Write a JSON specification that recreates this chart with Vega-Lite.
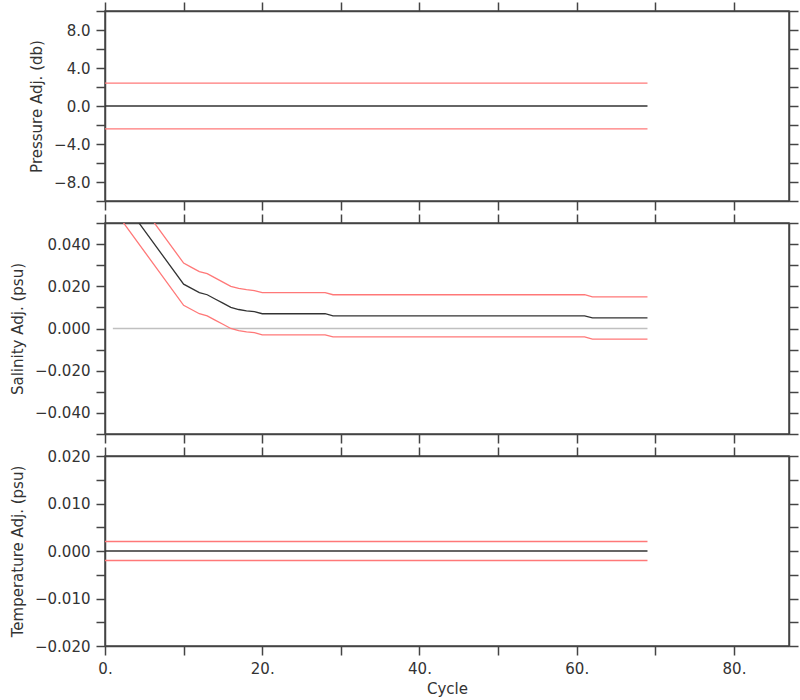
{
  "$schema": "https://vega.github.io/schema/vega-lite/v6.json",
  "autosize": {"type": "pad"},
  "padding": {"left": 9, "top": 0, "right": 0, "bottom": 0},
  "background": "white",
  "spacing": 0,
  "datasets": {
    "pressure": [
      {"cycle": 0, "value": 0, "series": "adj"},
      {"cycle": 69, "value": 0, "series": "adj"},
      {"cycle": 0, "value": 2.4, "series": "upper"},
      {"cycle": 69, "value": 2.4, "series": "upper"},
      {"cycle": 0, "value": -2.4, "series": "lower"},
      {"cycle": 69, "value": -2.4, "series": "lower"}
    ],
    "salinity": [
      {"cycle": 1, "value": 0, "series": "zero"},
      {"cycle": 69, "value": 0, "series": "zero"},
      {"cycle": 1, "value": 0.067, "series": "adj"},
      {"cycle": 10, "value": 0.021, "series": "adj"},
      {"cycle": 11, "value": 0.019, "series": "adj"},
      {"cycle": 12, "value": 0.017, "series": "adj"},
      {"cycle": 13, "value": 0.016, "series": "adj"},
      {"cycle": 14, "value": 0.014, "series": "adj"},
      {"cycle": 15, "value": 0.012, "series": "adj"},
      {"cycle": 16, "value": 0.010, "series": "adj"},
      {"cycle": 17, "value": 0.009, "series": "adj"},
      {"cycle": 18, "value": 0.0084, "series": "adj"},
      {"cycle": 19, "value": 0.008, "series": "adj"},
      {"cycle": 20, "value": 0.007, "series": "adj"},
      {"cycle": 28, "value": 0.007, "series": "adj"},
      {"cycle": 29, "value": 0.006, "series": "adj"},
      {"cycle": 61, "value": 0.006, "series": "adj"},
      {"cycle": 62, "value": 0.005, "series": "adj"},
      {"cycle": 69, "value": 0.005, "series": "adj"},
      {"cycle": 1, "value": 0.077, "series": "upper"},
      {"cycle": 10, "value": 0.031, "series": "upper"},
      {"cycle": 11, "value": 0.029, "series": "upper"},
      {"cycle": 12, "value": 0.027, "series": "upper"},
      {"cycle": 13, "value": 0.026, "series": "upper"},
      {"cycle": 14, "value": 0.024, "series": "upper"},
      {"cycle": 15, "value": 0.022, "series": "upper"},
      {"cycle": 16, "value": 0.020, "series": "upper"},
      {"cycle": 17, "value": 0.019, "series": "upper"},
      {"cycle": 18, "value": 0.0184, "series": "upper"},
      {"cycle": 19, "value": 0.018, "series": "upper"},
      {"cycle": 20, "value": 0.017, "series": "upper"},
      {"cycle": 28, "value": 0.017, "series": "upper"},
      {"cycle": 29, "value": 0.016, "series": "upper"},
      {"cycle": 61, "value": 0.016, "series": "upper"},
      {"cycle": 62, "value": 0.015, "series": "upper"},
      {"cycle": 69, "value": 0.015, "series": "upper"},
      {"cycle": 1, "value": 0.057, "series": "lower"},
      {"cycle": 10, "value": 0.011, "series": "lower"},
      {"cycle": 11, "value": 0.009, "series": "lower"},
      {"cycle": 12, "value": 0.007, "series": "lower"},
      {"cycle": 13, "value": 0.006, "series": "lower"},
      {"cycle": 14, "value": 0.004, "series": "lower"},
      {"cycle": 15, "value": 0.002, "series": "lower"},
      {"cycle": 16, "value": 0.000, "series": "lower"},
      {"cycle": 17, "value": -0.001, "series": "lower"},
      {"cycle": 18, "value": -0.0016, "series": "lower"},
      {"cycle": 19, "value": -0.002, "series": "lower"},
      {"cycle": 20, "value": -0.003, "series": "lower"},
      {"cycle": 28, "value": -0.003, "series": "lower"},
      {"cycle": 29, "value": -0.004, "series": "lower"},
      {"cycle": 61, "value": -0.004, "series": "lower"},
      {"cycle": 62, "value": -0.005, "series": "lower"},
      {"cycle": 69, "value": -0.005, "series": "lower"}
    ],
    "temperature": [
      {"cycle": 0, "value": 0, "series": "adj"},
      {"cycle": 69, "value": 0, "series": "adj"},
      {"cycle": 0, "value": 0.002, "series": "upper"},
      {"cycle": 69, "value": 0.002, "series": "upper"},
      {"cycle": 0, "value": -0.002, "series": "lower"},
      {"cycle": 69, "value": -0.002, "series": "lower"}
    ]
  },
  "vconcat": [
    {
      "width": 684,
      "height": 190,
      "layer": [
        {
          "data": {"name": "pressure"},
          "mark": {"type": "line", "clip": true, "strokeWidth": 1.3},
          "encoding": {
            "x": {"field": "cycle", "type": "quantitative", "scale": {"domain": [0, 87], "nice": false, "zero": false},
                  "axis": {"orient": "bottom", "values": [0, 10, 20, 30, 40, 50, 60, 70, 80], "labels": false, "title": null}},
            "y": {"field": "value", "type": "quantitative", "scale": {"domain": [-10, 10], "nice": false},
                  "axis": {"orient": "left", "values": [-10, -8, -6, -4, -2, 0, 2, 4, 6, 8, 10], "format": ".1f",
                           "labelExpr": "(datum.value % 4 == 0 && abs(datum.value) < 9) ? datum.label : ''", "title": "Pressure Adj. (db)"}},
            "color": {"field": "series", "type": "nominal", "legend": null,
                      "scale": {"domain": ["adj", "upper", "lower", "zero"], "range": ["#333333", "#ff7878", "#ff7878", "#c0c0c0"]}}
          }
        },
        {
          "data": {"name": "pressure"},
          "mark": {"type": "line", "opacity": 0},
          "encoding": {
            "x": {"field": "cycle", "type": "quantitative", "axis": {"orient": "top", "values": [0, 10, 20, 30, 40, 50, 60, 70, 80], "labels": false, "title": null}},
            "y": {"field": "value", "type": "quantitative", "axis": {"orient": "right", "values": [-10, -8, -6, -4, -2, 0, 2, 4, 6, 8, 10], "labels": false, "title": null}}
          }
        }
      ],
      "resolve": {"axis": {"x": "independent", "y": "independent"}}
    },
    {
      "width": 684,
      "height": 211,
      "layer": [
        {
          "data": {"name": "salinity"},
          "mark": {"type": "line", "clip": true, "strokeWidth": 1.3},
          "encoding": {
            "x": {"field": "cycle", "type": "quantitative", "scale": {"domain": [0, 87], "nice": false, "zero": false},
                  "axis": {"orient": "bottom", "values": [0, 10, 20, 30, 40, 50, 60, 70, 80], "labels": false, "title": null}},
            "y": {"field": "value", "type": "quantitative", "scale": {"domain": [-0.05, 0.05], "nice": false},
                  "axis": {"orient": "left", "values": [-0.05, -0.04, -0.03, -0.02, -0.01, 0, 0.01, 0.02, 0.03, 0.04, 0.05], "format": ".3f",
                           "labelExpr": "(round(datum.value * 1000) % 20 == 0 && abs(datum.value) < 0.045) ? datum.label : ''", "title": "Salinity Adj. (psu)"}},
            "color": {"field": "series", "type": "nominal", "legend": null,
                      "scale": {"domain": ["adj", "upper", "lower", "zero"], "range": ["#333333", "#ff7878", "#ff7878", "#c0c0c0"]}}
          }
        },
        {
          "data": {"name": "salinity"},
          "mark": {"type": "line", "opacity": 0, "clip": true},
          "encoding": {
            "x": {"field": "cycle", "type": "quantitative", "axis": {"orient": "top", "values": [0, 10, 20, 30, 40, 50, 60, 70, 80], "labels": false, "title": null}},
            "y": {"field": "value", "type": "quantitative", "axis": {"orient": "right", "values": [-0.05, -0.04, -0.03, -0.02, -0.01, 0, 0.01, 0.02, 0.03, 0.04, 0.05], "labels": false, "title": null}}
          }
        }
      ],
      "resolve": {"axis": {"x": "independent", "y": "independent"}}
    },
    {
      "width": 684,
      "height": 190,
      "layer": [
        {
          "data": {"name": "temperature"},
          "mark": {"type": "line", "clip": true, "strokeWidth": 1.3},
          "encoding": {
            "x": {"field": "cycle", "type": "quantitative", "scale": {"domain": [0, 87], "nice": false, "zero": false},
                  "axis": {"orient": "bottom", "values": [0, 10, 20, 30, 40, 50, 60, 70, 80], "labelFlush": false, "labelOverlap": false,
                           "labelExpr": "datum.value % 20 == 0 ? format(datum.value, 'd') + '.' : ''", "title": "Cycle", "titlePadding": 5}},
            "y": {"field": "value", "type": "quantitative", "scale": {"domain": [-0.02, 0.02], "nice": false},
                  "axis": {"orient": "left", "values": [-0.02, -0.015, -0.01, -0.005, 0, 0.005, 0.01, 0.015, 0.02], "format": ".3f",
                           "labelExpr": "(round(datum.value * 1000) % 10 == 0) ? datum.label : ''", "title": "Temperature Adj. (psu)"}},
            "color": {"field": "series", "type": "nominal", "legend": null,
                      "scale": {"domain": ["adj", "upper", "lower", "zero"], "range": ["#333333", "#ff7878", "#ff7878", "#c0c0c0"]}}
          }
        },
        {
          "data": {"name": "temperature"},
          "mark": {"type": "line", "opacity": 0},
          "encoding": {
            "x": {"field": "cycle", "type": "quantitative", "axis": {"orient": "top", "values": [0, 10, 20, 30, 40, 50, 60, 70, 80], "labels": false, "title": null}},
            "y": {"field": "value", "type": "quantitative", "axis": {"orient": "right", "values": [-0.02, -0.015, -0.01, -0.005, 0, 0.005, 0.01, 0.015, 0.02], "labels": false, "title": null}}
          }
        }
      ],
      "resolve": {"axis": {"x": "independent", "y": "independent"}}
    }
  ],
  "config": {
    "view": {"stroke": "#444444", "strokeWidth": 1.5},
    "axis": {
      "grid": false,
      "tickSize": 9,
      "tickColor": "#444444",
      "tickWidth": 1.5,
      "domainColor": "#444444",
      "domainWidth": 1.5,
      "labelFont": "DejaVu Sans",
      "labelFontSize": 15,
      "labelColor": "#333333",
      "labelPadding": 6,
      "labelOverlap": false,
      "titleFont": "DejaVu Sans",
      "titleFontSize": 15,
      "titleFontWeight": "normal",
      "titleColor": "#333333",
      "titlePadding": 9
    }
  }
}
